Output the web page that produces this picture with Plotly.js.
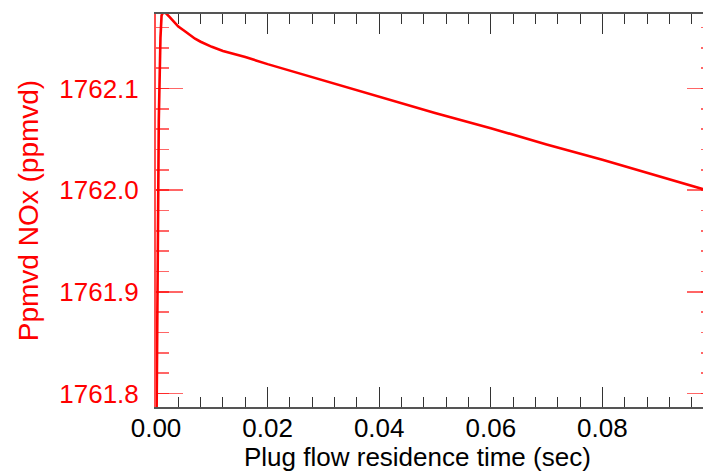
<!DOCTYPE html>
<html>
<head>
<meta charset="utf-8">
<script src="https://cdn.plot.ly/plotly-3.0.1.min.js"></script>
<style>
html, body { margin: 0; padding: 0; overflow: hidden; background: #fff; }
#chart { width: 720px; height: 473px; }
</style>
</head>
<body>
<div id="chart"></div>
<script>
// Plug flow residence time (sec)
const residenceTime = [0.0, 0.0003, 0.0005, 0.0008, 0.0010, 0.0013, 0.0018, 0.0025, 0.0030, 0.0040, 0.0050, 0.0060, 0.0070, 0.0080, 0.0100, 0.0120, 0.0160, 0.0200, 0.0300, 0.0400, 0.0500, 0.0600, 0.0700, 0.0800, 0.0900, 0.1000];
// Ppmvd NOx (ppmvd)
const noxPpmvd = [1761.70, 1761.892, 1762.069, 1762.150, 1762.172, 1762.175, 1762.174, 1762.170, 1762.167, 1762.161, 1762.157, 1762.153, 1762.149, 1762.146, 1762.141, 1762.137, 1762.131, 1762.124, 1762.108, 1762.092, 1762.076, 1762.061, 1762.045, 1762.030, 1762.014, 1761.998];

const xTickVals = [0, 0.02, 0.04, 0.06, 0.08];
const xTickText = ['0.00', '0.02', '0.04', '0.06', '0.08'];
const yTickVals = [1761.8, 1761.9, 1762.0, 1762.1];
const yTickText = ['1761.8', '1761.9', '1762.0', '1762.1'];
const xTitle = 'Plug flow residence time (sec)';
const yTitle = 'Ppmvd NOx (ppmvd)';

const FONT = 'Liberation Sans, Arial, Helvetica, sans-serif';

const trace = {
  x: residenceTime,
  y: noxPpmvd,
  type: 'scatter',
  mode: 'lines',
  line: { color: '#ff0000', width: 2.6 },
  hoverinfo: 'skip'
};

const layout = {
  width: 720,
  height: 473,
  margin: { l: 156, r: 6, t: 14, b: 66 },
  paper_bgcolor: '#ffffff',
  plot_bgcolor: '#ffffff',
  showlegend: false,
  font: { family: FONT },
  xaxis: {
    range: [0, 0.1],
    tickmode: 'array',
    tickvals: xTickVals,
    ticktext: xTickText,
    ticks: 'inside',
    ticklen: 20,
    tickwidth: 1,
    tickcolor: '#333',
    showline: true,
    linecolor: '#555',
    linewidth: 2,
    mirror: 'ticks',
    showgrid: false,
    zeroline: false,
    ticklabelstandoff: -3,
    tickfont: { family: FONT, size: 26, color: '#000' },
    minor: { dtick: 0.004, tick0: 0, ticks: 'inside', ticklen: 10, tickcolor: '#333', tickwidth: 1, showgrid: false }
  },
  yaxis: {
    range: [1761.7868, 1762.1733],
    tickmode: 'array',
    tickvals: yTickVals,
    ticktext: yTickText,
    ticks: 'inside',
    ticklen: 27,
    tickwidth: 1.5,
    tickcolor: 'rgba(255,0,0,0.6)',
    showline: true,
    linecolor: 'rgba(255,0,0,0.7)',
    linewidth: 2,
    mirror: 'ticks',
    showgrid: false,
    zeroline: false,
    ticklabelstandoff: 10,
    tickfont: { family: FONT, size: 26, color: '#ff0000' },
    minor: { dtick: 0.02, tick0: 1761.8, ticks: 'inside', ticklen: 13, tickcolor: 'rgba(255,0,0,0.6)', tickwidth: 1.5, showgrid: false },
    title: { text: yTitle, font: { family: FONT, size: 28, color: '#ff0000' }, standoff: 12 }
  },
  annotations: [{
    text: xTitle,
    xref: 'paper', yref: 'paper',
    x: 0.468, y: -0.127,
    xanchor: 'center', yanchor: 'middle',
    showarrow: false,
    font: { family: FONT, size: 26, color: '#000' }
  }]
};

Plotly.newPlot('chart', [trace], layout, { displayModeBar: false, staticPlot: true });
</script>
</body>
</html>
